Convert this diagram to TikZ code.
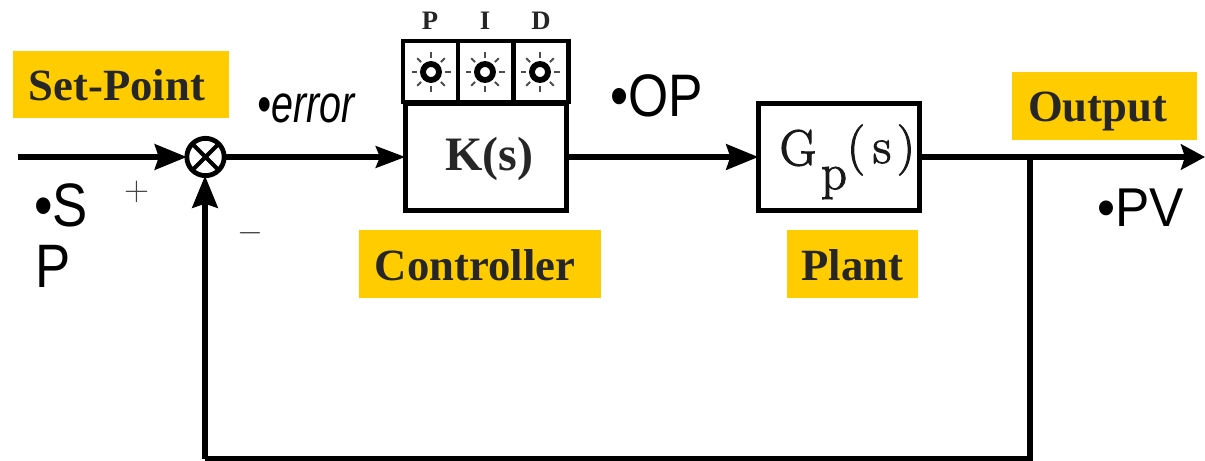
\documentclass[tikz,border=0pt]{standalone}
\usepackage{fontspec}
\setmainfont{Liberation Serif}
\setsansfont{Liberation Sans}
\newfontfamily\lmr[FakeBold=2]{Latin Modern Roman}
\newfontfamily\lmrthin{Latin Modern Roman}
\newfontfamily\sfnarrow[FakeStretch=0.86]{Liberation Sans}
\newfontfamily\sfpv[FakeStretch=0.94]{Liberation Sans}
\newfontfamily\sferr[FakeStretch=0.74]{Liberation Sans}
\usetikzlibrary{arrows.meta}
\definecolor{tagyellow}{HTML}{FFCC00}
\tikzset{
  x=0.75pt,y=-0.75pt,
  tag/.style={fill=tagyellow,inner sep=0pt,text=black!85,font=\fontsize{33.5}{36}\selectfont\bfseries,text depth=0pt},
  blockbox/.style={draw=black,line width=4pt,inner sep=0pt,outer sep=0pt},
  cell/.style={draw=black,line width=3.6pt,inner sep=0pt,outer sep=0pt,minimum width=41.2pt,minimum height=45.8pt},
  wire/.style={line width=4.2pt,draw=black},
  flow/.style={wire,-{Stealth[length=24pt,width=19pt,inset=3pt]}},
  shortflow/.style={wire,-{Stealth[length=18pt,width=19pt,inset=3pt]}},
  smallflow/.style={wire,-{Stealth[length=22pt,width=16pt,inset=3pt]}},
  bullettext/.style={inner sep=0pt,font=\sfnarrow\fontsize{46}{50}\selectfont},
  pidlabel/.style={inner sep=0pt,font=\bfseries\fontsize{20}{22}\selectfont,text=black!85},
  gptext/.style={inner sep=0pt,font=\lmr\fontsize{38}{42}\selectfont,text=black!90},
  lamp/.style={circle,draw=black,line width=4.4pt,inner sep=0pt,minimum size=12pt,outer sep=0pt},
  ray/.style={line width=1.5pt,draw=black!70},
  signmark/.style={inner sep=0pt,text=black!75,font=\lmrthin\fontsize{26}{28}\selectfont}
}
\begin{document}
\begin{tikzpicture}
\useasboundingbox (0,0) rectangle (1205,460);
% tags
\node[tag,minimum width=162pt,minimum height=50pt] (setpoint) at (121,84.5) {\raisebox{-1pt}{Set-Point}\hspace{6pt}\null};
\node[tag,minimum width=139pt,minimum height=51pt] (output) at (1104.5,106) {\raisebox{-1.5pt}{Output}\hspace{10.5pt}\null};
\node[tag,minimum width=181.5pt,minimum height=51pt] (controller) at (480,264) {\raisebox{-1pt}{Controller}\hspace{7.5pt}\null};
\node[tag,minimum width=98pt,minimum height=51pt] (plant) at (852.5,264) {\raisebox{-1pt}{Plant}};
% blocks
\node[blockbox,minimum width=121pt,minimum height=80pt] (kbox) at (486,157) {};
\node[inner sep=0pt,font=\fontsize{36}{40}\selectfont\bfseries,text=black!85] (ktext) at (489,159) {K(s)};
\node[blockbox,minimum width=121pt,minimum height=80pt] (gbox) at (839,157) {};
\node[gptext] (gg) at (798,148) {G};
\node[gptext] (gsub) at (834,183) {p};
\node[gptext] (gl) at (856,150) {(};
\node[gptext] (gs) at (882,152) {s};
\node[gptext] (gr) at (906,150) {)};
% PID cells
\node[cell] (pcell) at (430.5,71.5) {};
\node[cell] (icell) at (485.5,71.5) {};
\node[cell] (dcell) at (541,71.5) {};
\foreach \n/\cx in {plamp/431,ilamp/485,dlamp/540}{
  \node[lamp] (\n) at (\cx,72) {};
  \foreach \a in {0,45,...,315}
    \draw[ray] (\n.center) ++(\a:14) -- ++(\a:5.5);
}
\node[pidlabel] (plabel) at (430,21) {P};
\node[pidlabel] (ilabel) at (485,21) {I};
\node[pidlabel] (dlabel) at (541,21) {D};
% sum
\node[circle,draw=black,line width=3.6pt,minimum size=28pt,inner sep=0pt,outer sep=0pt] (sum) at (205.5,157) {};
\draw[line width=3pt] (sum.45) -- (sum.225) (sum.135) -- (sum.315);
% connectors
\coordinate (in) at (18,157);
\coordinate (out) at (1205,157);
\coordinate (tap) at (1030,157);
\coordinate (bl) at (1030,459);
\coordinate (br) at (205,459);
\draw[flow] (in) -- (sum.west);
\draw[smallflow] (sum.east) -- (kbox.west);
\draw[flow] (kbox.east) -- (gbox.west);
\draw[shortflow] (gbox.east) -- (out);
\draw[wire,line cap=butt] (tap) -- (bl) -- (br);
\draw[flow] (br) -- (br |- sum.south);
% texts
\node[bullettext,anchor=base west] (sp1) at (34,226) {•S};
\node[bullettext,anchor=base west] (sp2) at (35,287) {P};
\node[inner sep=0pt,anchor=base west,font=\sfnarrow\fontsize{45}{50}\selectfont] (op) at (610,116) {•OP};
\node[inner sep=0pt,anchor=base west,font=\sfpv\fontsize{41}{46}\selectfont] (pv) at (1097,226) {•PV};
\node[inner sep=0pt,anchor=base west,font=\sferr\itshape\fontsize{40}{42}\selectfont] (err) at (257,122) {•error};
\node[signmark] (plus) at (137,192) {+};
\node[signmark,font=\lmrthin\fontsize{36}{38}\selectfont] (minus) at (250,233) {$-$};
\end{tikzpicture}
\end{document}
